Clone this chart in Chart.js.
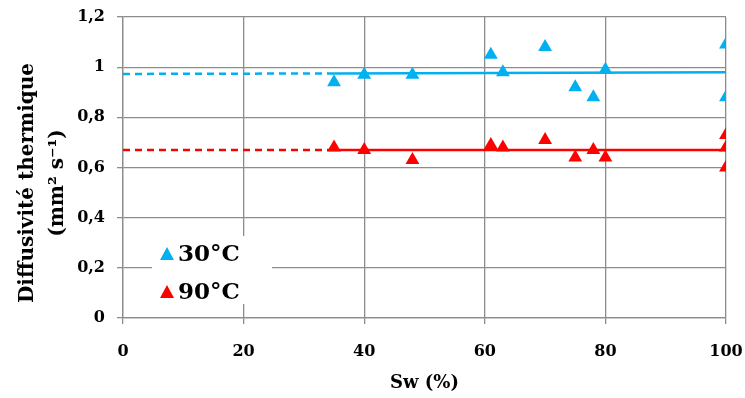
<!DOCTYPE html>
<html>
<head>
<meta charset="utf-8">
<script src="https://cdn.jsdelivr.net/npm/chart.js@4/dist/chart.umd.min.js"></script>
<style>
  html, body { margin: 0; padding: 0; background: #fff; }
  #wrap { width: 745px; height: 398px; }
</style>
</head>
<body>
<div id="wrap"><canvas id="chart"></canvas></div>
<script>
// data
const sw = [35, 40, 48, 61, 63, 70, 75, 78, 80, 100, 100, 100];
const diff30 = [0.94, 0.97, 0.97, 1.05, 0.98, 1.08, 0.92, 0.88, 0.99, 1.09, 0.88, null];
const diff90 = [0.68, 0.67, 0.63, 0.69, 0.68, 0.71, 0.64, 0.67, 0.64, 0.73, 0.68, 0.60];
const fit30 = { dashed: [[0, 0.973], [35, 0.975]], solid: [[35, 0.975], [100, 0.98]] };
const fit90 = { dashed: [[0, 0.67], [35, 0.67]], solid: [[35, 0.67], [100, 0.67]] };
const legendLabels = ["30°C", "90°C"];
const yTitle = ["Diffusivité thermique", "(mm² s⁻¹)"];

const BLUE = "#00b0f0";
const RED = "#ff0000";
const GRID = "#8c8c8c";
const FONT = "'DejaVu Serif', 'Liberation Serif', serif";

const pts = (xs, ys) => xs.map((x, i) => ({ x, y: ys[i] })).filter(p => p.y != null);
const seg = (arr) => arr.map(([x, y]) => ({ x, y }));

const lineDs = (data, color, dashed) => ({
  type: "line",
  data: seg(data),
  borderColor: color,
  borderWidth: 2.5,
  borderDash: dashed ? [7, 5] : [],
  pointRadius: 0,
  fill: false,
});

// legend drawn inside the plot, on a white box; y title drawn a bit lower than centre
const extras = {
  id: "extras",
  afterDraw(chart) {
    const { ctx } = chart;
    ctx.save();
    ctx.fillStyle = "#fff";
    ctx.fillRect(152, 236, 120, 68);
    const items = [[BLUE, legendLabels[0], 254], [RED, legendLabels[1], 292]];
    items.forEach(([c, t, y]) => {
      ctx.fillStyle = c;
      ctx.beginPath();
      ctx.moveTo(167, y - 7);
      ctx.lineTo(174, y + 6);
      ctx.lineTo(160, y + 6);
      ctx.closePath();
      ctx.fill();
      ctx.fillStyle = "#000";
      ctx.font = "bold 23px " + FONT;
      ctx.textBaseline = "middle";
      ctx.textAlign = "left";
      ctx.fillText(t, 178, y + 1);
    });
    ctx.font = "bold 20px " + FONT;
    ctx.textAlign = "center";
    ctx.textBaseline = "middle";
    yTitle.forEach((t, i) => {
      ctx.save();
      ctx.translate(28 + i * 30, 183);
      ctx.rotate(-Math.PI / 2);
      ctx.fillText(t, 0, 0);
      ctx.restore();
    });
    ctx.restore();
  },
};

new Chart(document.getElementById("chart"), {
  type: "scatter",
  data: {
    datasets: [
      lineDs(fit30.dashed, BLUE, true),
      lineDs(fit30.solid, BLUE, false),
      lineDs(fit90.dashed, RED, true),
      lineDs(fit90.solid, RED, false),
      {
        label: legendLabels[0],
        data: pts(sw, diff30),
        pointStyle: "triangle",
        pointRadius: 8,
        backgroundColor: BLUE,
        borderColor: BLUE,
        borderWidth: 0,
      },
      {
        label: legendLabels[1],
        data: pts(sw, diff90),
        pointStyle: "triangle",
        pointRadius: 8,
        backgroundColor: RED,
        borderColor: RED,
        borderWidth: 0,
      },
    ],
  },
  options: {
    responsive: true,
    maintainAspectRatio: false,
    animation: false,
    layout: { padding: { top: 17, right: 19, left: 0, bottom: 0 } },
    plugins: {
      legend: { display: false },
      tooltip: { enabled: false },
    },
    scales: {
      x: {
        type: "linear",
        min: 0,
        max: 100,
        afterFit: (s) => { s.height = 80; s.paddingLeft = 0; s.paddingRight = 0; },
        ticks: {
          stepSize: 20,
          color: "#000",
          padding: 18,
          maxRotation: 0,
          font: { family: FONT, weight: "bold", size: 16 },
        },
        grid: { color: GRID, lineWidth: 1.3, tickLength: 6 },
        border: { color: GRID, width: 1.3 },
        title: {
          display: true,
          text: "Sw (%)",
          color: "#000",
          padding: { top: 0 },
          font: { family: FONT, weight: "bold", size: 18 },
        },
      },
      y: {
        min: 0,
        max: 1.2,
        afterFit: (s) => { s.width = 123; s.paddingTop = 0; s.paddingBottom = 0; },
        ticks: {
          stepSize: 0.2,
          color: "#000",
          padding: 12,
          font: { family: FONT, weight: "bold", size: 16 },
          callback: (v) => String(Math.round(v * 10) / 10).replace(".", ","),
        },
        grid: { color: GRID, lineWidth: 1.3, tickLength: 6 },
        border: { color: GRID, width: 1.3 },
      },
    },
  },
  plugins: [extras],
});
</script>
</body>
</html>
